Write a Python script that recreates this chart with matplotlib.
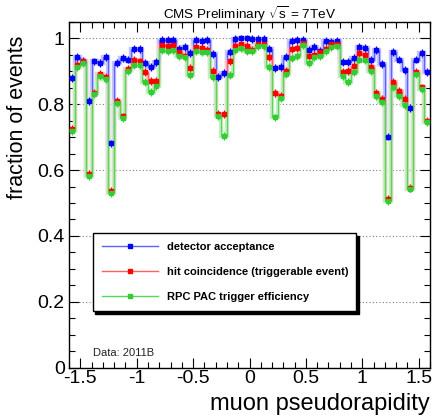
import numpy as np
import matplotlib
matplotlib.use('Agg')
import matplotlib.pyplot as plt
from matplotlib.lines import Line2D
from matplotlib.ticker import MultipleLocator

plt.rcParams['font.family'] = ['Liberation Sans', 'DejaVu Sans']
plt.rcParams['mathtext.fontset'] = 'custom'
plt.rcParams['mathtext.rm'] = 'Liberation Sans'

# binning in muon pseudorapidity (64 bins of 0.05 from -1.6 to 1.6)
eta_edges = np.linspace(-1.6, 1.6, 65)

acceptance = [0.879, 0.945, 0.931, 0.811, 0.930, 0.926, 0.945, 0.681,
              0.925, 0.940, 0.936, 0.968, 0.968, 0.925, 0.912, 0.928,
              0.996, 0.996, 0.996, 0.968, 0.973, 0.955, 0.996, 0.992,
              0.996, 0.953, 0.884, 0.894, 0.960, 0.999, 1.000, 1.000,
              0.999, 0.999, 0.999, 0.968, 0.909, 0.914, 0.943, 0.991,
              0.994, 0.994, 0.965, 0.975, 0.961, 0.991, 0.989, 0.991,
              0.928, 0.929, 0.940, 0.973, 0.971, 0.935, 0.966, 0.923,
              0.702, 0.960, 0.936, 0.905, 0.788, 0.936, 0.955, 0.897]

coincidence = [0.725, 0.920, 0.930, 0.587, 0.835, 0.892, 0.882, 0.536,
               0.811, 0.763, 0.907, 0.935, 0.930, 0.897, 0.872, 0.872,
               0.981, 0.978, 0.981, 0.958, 0.948, 0.909, 0.975, 0.971,
               0.966, 0.902, 0.770, 0.770, 0.931, 0.978, 0.983, 0.978,
               0.966, 0.984, 0.984, 0.943, 0.834, 0.826, 0.900, 0.968,
               0.970, 0.987, 0.948, 0.951, 0.958, 0.968, 0.984, 0.984,
               0.899, 0.900, 0.917, 0.956, 0.950, 0.912, 0.835, 0.815,
               0.513, 0.867, 0.841, 0.816, 0.547, 0.899, 0.851, 0.750]

trigger = [0.719, 0.912, 0.925, 0.582, 0.831, 0.887, 0.877, 0.529,
           0.804, 0.758, 0.902, 0.920, 0.918, 0.867, 0.836, 0.856,
           0.966, 0.963, 0.966, 0.948, 0.943, 0.889, 0.961, 0.958,
           0.958, 0.884, 0.765, 0.704, 0.889, 0.966, 0.970, 0.963,
           0.961, 0.976, 0.976, 0.912, 0.760, 0.818, 0.892, 0.941,
           0.948, 0.981, 0.926, 0.943, 0.946, 0.963, 0.973, 0.978,
           0.887, 0.869, 0.899, 0.936, 0.935, 0.902, 0.826, 0.808,
           0.506, 0.851, 0.826, 0.798, 0.544, 0.892, 0.846, 0.745]

stat_err = 0.012

labels = ['detector acceptance',
          'hit coincidence (triggerable event)',
          'RPC PAC trigger efficiency']

W, H = 433, 415
fig = plt.figure(figsize=(W / 100, H / 100), dpi=100)
ax = fig.add_axes([69 / W, 1 - 367.6 / H, 361 / W, 345.6 / H])

centers = 0.5 * (eta_edges[:-1] + eta_edges[1:])
styles = [(acceptance, '#0000ff', '#6060ff', '#c4c4ff'),
          (coincidence, '#ff0000', '#ff6060', '#ffc8c8'),
          (trigger, '#33cc33', '#55d855', '#c4eec4')]

for vals, dark, mid, pale in styles:
    ax.stairs(vals, eta_edges, baseline=None, color=pale, lw=3.2, zorder=2)
for vals, dark, mid, pale in styles:
    ax.stairs(vals, eta_edges, baseline=None, color=mid, lw=0.9, zorder=3)
for vals, dark, mid, pale in styles:
    ax.errorbar(centers, vals, yerr=stat_err, fmt='s', ms=3.5, color=dark,
                ecolor=dark, elinewidth=0.9, capsize=0, zorder=4)

ax.set_xlim(-1.6, 1.6)
ax.set_ylim(0, 1.05)
ax.xaxis.set_minor_locator(MultipleLocator(0.1))
ax.yaxis.set_minor_locator(MultipleLocator(0.05))
ax.set_xticks([-1.5, -1, -0.5, 0, 0.5, 1, 1.5])
ax.set_xticklabels(['-1.5', '-1', '-0.5', '0', '0.5', '1', '1.5'])
ax.set_yticks([0, 0.2, 0.4, 0.6, 0.8, 1.0])
ax.set_yticklabels(['0', '0.2', '0.4', '0.6', '0.8', '1'])
ax.tick_params(which='both', direction='in', top=True, right=True, width=0.8)
ax.tick_params(which='major', length=7, labelsize=14)
ax.tick_params(axis='x', which='major', pad=2)
ax.tick_params(axis='y', which='major', pad=3)
ax.tick_params(which='minor', length=4)
for s in ax.spines.values():
    s.set_linewidth(1.0)

ax.yaxis.grid(True, which='major', linestyle=(0, (1, 2)), color='#808080', lw=0.8)
ax.set_axisbelow(True)

handles = [Line2D([], [], color=m, lw=1.0, marker='s', ms=3, mfc=d, mec=d)
           for _, d, m, _ in styles]
leg = ax.legend(handles, labels, loc='upper left',
                bbox_to_anchor=(0.0657, 0.389, 0.73, 0.0), mode='expand',
                prop={'weight': 'bold', 'size': 8}, frameon=True, fancybox=False,
                shadow={'color': 'black', 'alpha': 1.0}, handlelength=5.1,
                handletextpad=0.8, labelspacing=1.35, borderpad=0.8,
                borderaxespad=0.0)
leg.get_frame().set_edgecolor('black')
leg.get_frame().set_linewidth(1.0)
leg.get_frame().set_alpha(1.0)

ax.text(0.066, 0.034, 'Data: 2011B', transform=ax.transAxes, fontsize=8,
        ha='left', va='baseline', color='#222222')

fig.text(250 / W, 1 - 14 / H, r'CMS Preliminary $\sqrt{\mathrm{s}}$ = 7TeV',
         ha='center', va='center', fontsize=9.7)
fig.text(18 / W, 1 - 36 / H, 'fraction of events', rotation=90,
         ha='center', va='top', fontsize=15.5)
fig.text(430 / W, 1 - 410 / H, 'muon pseudorapidity', ha='right',
         va='baseline', fontsize=17)

fig.savefig('out.png', dpi=100)
